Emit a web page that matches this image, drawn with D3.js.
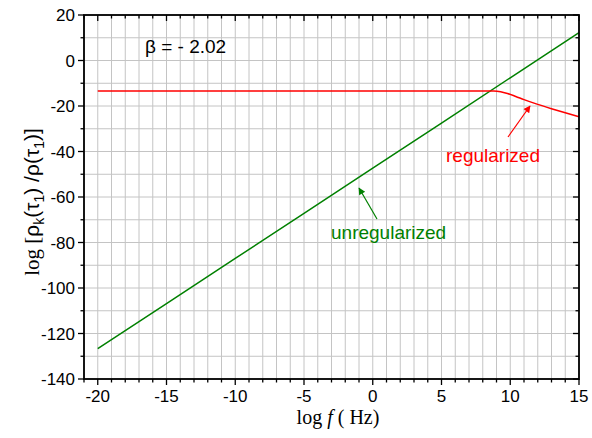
<!DOCTYPE html>
<html>
<head>
<meta charset="utf-8">
<script src="https://cdn.jsdelivr.net/npm/d3@7"></script>
<style>
  body { margin: 0; background: #fff; }
  svg { display: block; }
</style>
</head>
<body>
<svg id="chart" width="592" height="438"></svg>
<script>
// data
const unregX = [-20, -15, -10, -5, 0, 5, 10, 15];
const unregY = [-126.7, -106.9, -87.0, -67.2, -47.3, -27.5, -7.6, 12.2];
const regX = [-20, -10, 0, 8, 8.8, 9.3, 9.8, 10.4, 11, 12, 13, 14, 15];
const regY = [-13.4, -13.4, -13.4, -13.4, -13.4, -13.7, -14.5, -15.8, -17.2, -19.3, -21.2, -23.0, -24.7];
const xTicks = [-20, -15, -10, -5, 0, 5, 10, 15];
const yTicks = [-140, -120, -100, -80, -60, -40, -20, 0, 20];

const svg = d3.select("#chart");
const m = { left: 84, top: 15, right: 13, bottom: 59 };
const W = 592 - m.left - m.right;
const H = 438 - m.top - m.bottom;

const x = d3.scaleLinear().domain([-21, 15]).range([0, W]);
const y = d3.scaleLinear().domain([-140, 20]).range([H, 0]);

const g = svg.append("g").attr("transform", `translate(${m.left},${m.top})`);

// grid: every 1 on x, every 10 on y
const xGrid = d3.range(-21, 16, 1);
const yGrid = d3.range(-140, 21, 10);
g.append("g").selectAll("line").data(xGrid).join("line")
    .attr("x1", d => x(d)).attr("x2", d => x(d))
    .attr("y1", 0).attr("y2", H)
    .attr("stroke", "#c4c4c4").attr("stroke-width", 1);
g.append("g").selectAll("line").data(yGrid).join("line")
    .attr("x1", 0).attr("x2", W)
    .attr("y1", d => y(d)).attr("y2", d => y(d))
    .attr("stroke", "#c4c4c4").attr("stroke-width", 1);

// arrow markers
const defs = svg.append("defs");
[["arrRed", "#ff0000"], ["arrGreen", "#008000"]].forEach(([id, c]) => {
    defs.append("marker").attr("id", id)
        .attr("viewBox", "0 0 10 10").attr("refX", 9).attr("refY", 5)
        .attr("markerWidth", 9).attr("markerHeight", 7)
        .attr("markerUnits", "userSpaceOnUse")
        .attr("orient", "auto")
        .append("path").attr("d", "M0,0 L10,5 L0,10 Z").attr("fill", c);
});

// series
const line = d3.line().x(d => x(d[0])).y(d => y(d[1]));
g.append("path")
    .attr("d", line(unregX.map((v, i) => [v, unregY[i]])))
    .attr("fill", "none").attr("stroke", "#008000").attr("stroke-width", 1.5);
g.append("path")
    .attr("d", line.curve(d3.curveMonotoneX)(regX.map((v, i) => [v, regY[i]])))
    .attr("fill", "none").attr("stroke", "#ff0000").attr("stroke-width", 1.5);

// axes
const font = "'Liberation Sans', Arial, sans-serif";
const xMinor = d3.range(-21, 16, 1);
const yMinor = d3.range(-140, 21, 10);

const a = g.append("g").attr("stroke", "#000").attr("stroke-width", 1.3);
xMinor.forEach(v => {
    const L = xTicks.includes(v) ? 6 : 3.5;
    a.append("line").attr("x1", x(v)).attr("x2", x(v)).attr("y1", H).attr("y2", H + L);
    a.append("line").attr("x1", x(v)).attr("x2", x(v)).attr("y1", 0).attr("y2", L);
});
yMinor.forEach(v => {
    const L = yTicks.includes(v) ? 6 : 3.5;
    a.append("line").attr("x1", 0).attr("x2", -L).attr("y1", y(v)).attr("y2", y(v));
    a.append("line").attr("x1", W).attr("x2", W - L).attr("y1", y(v)).attr("y2", y(v));
});
g.append("rect").attr("x", 0).attr("y", 0).attr("width", W).attr("height", H)
    .attr("fill", "none").attr("stroke", "#000").attr("stroke-width", 1.8);

g.append("g").selectAll("text").data(xTicks).join("text")
    .attr("x", d => x(d)).attr("y", H + 23)
    .attr("text-anchor", "middle")
    .attr("font-family", font).attr("font-size", 17)
    .text(d => d);
g.append("g").selectAll("text").data(yTicks).join("text")
    .attr("x", -9).attr("y", d => y(d) + 6)
    .attr("text-anchor", "end")
    .attr("font-family", font).attr("font-size", 17)
    .text(d => d);

// axis titles
const serif = "'Liberation Serif', 'Times New Roman', serif";
const xl = svg.append("text")
    .attr("x", 338).attr("y", 424)
    .attr("text-anchor", "middle")
    .attr("font-family", serif).attr("font-size", 20);
xl.append("tspan").text("log ");
xl.append("tspan").attr("font-style", "italic").text("f");
xl.append("tspan").text(" ( Hz)");

const yl = svg.append("text")
    .attr("transform", "translate(39,202) rotate(-90)")
    .attr("text-anchor", "middle")
    .attr("font-family", serif).attr("font-size", 21);
yl.append("tspan").text("log [");
yl.append("tspan").attr("font-family", font).text("ρ");
yl.append("tspan").attr("font-family", font).attr("font-size", 14).attr("dy", 5).text("k");
yl.append("tspan").attr("font-family", font).attr("dy", -5).text("(τ");
yl.append("tspan").attr("font-family", font).attr("font-size", 14).attr("dy", 5).text("1");
yl.append("tspan").attr("font-family", font).attr("dy", -5).text(") /ρ(τ");
yl.append("tspan").attr("font-family", font).attr("font-size", 14).attr("dy", 5).text("1");
yl.append("tspan").attr("font-family", font).attr("dy", -5).text(")]");

// annotations
svg.append("text").attr("x", 145).attr("y", 53)
    .attr("font-family", font).attr("font-size", 19).text("β = - 2.02");
svg.append("text").attr("x", 446).attr("y", 162)
    .attr("font-family", font).attr("font-size", 19).attr("fill", "#ff0000").text("regularized");
svg.append("text").attr("x", 331).attr("y", 239)
    .attr("font-family", font).attr("font-size", 19).attr("fill", "#008000").text("unregularized");

svg.append("line").attr("x1", 508).attr("y1", 137).attr("x2", 530).attr("y2", 106)
    .attr("stroke", "#ff0000").attr("stroke-width", 1.2).attr("marker-end", "url(#arrRed)");
svg.append("line").attr("x1", 377).attr("y1", 219).attr("x2", 359).attr("y2", 188)
    .attr("stroke", "#008000").attr("stroke-width", 1.2).attr("marker-end", "url(#arrGreen)");
</script>
</body>
</html>
